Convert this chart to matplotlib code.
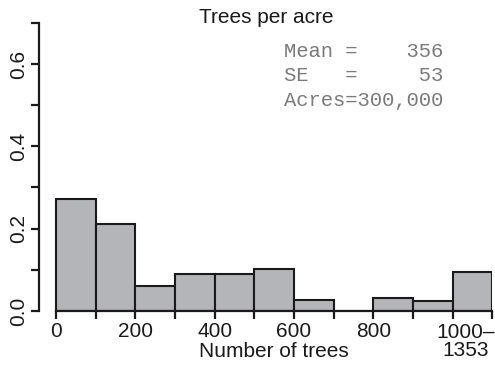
#!/usr/bin/env python3
"""Histogram of trees per acre, R-style base graphics look."""

import matplotlib
matplotlib.use('Agg')
import matplotlib.pyplot as plt
from matplotlib.transforms import blended_transform_factory

# bin left edges (number of trees) and relative frequencies
BIN_LEFT = [0, 100, 200, 300, 400, 500, 600, 700, 800, 900, 1000]
FREQ     = [0.272, 0.212, 0.061, 0.090, 0.090, 0.103, 0.026, 0.0, 0.031, 0.024, 0.095]
BIN_W    = 100

XTICKS       = [0, 100, 200, 300, 400, 500, 600, 700, 800, 900, 1000, 1100]
XTICK_LABELS = ["0", "", "200", "", "400", "", "600", "", "800", "", "", ""]
YTICKS       = [0.0, 0.1, 0.2, 0.3, 0.4, 0.5, 0.6, 0.7]
YTICK_LABELS = ["0.0", "", "0.2", "", "0.4", "", "0.6", ""]

TITLE  = "Trees per acre"
XLABEL = "Number of trees"
LAST_LABEL = "1000\u2013\n1353"
STATS = ["Mean =    356",
         "SE   =     53",
         "Acres=300,000"]

W, H = 495, 366
plt.rcParams['font.family'] = ['Liberation Sans', 'DejaVu Sans']

fig = plt.figure(figsize=(W / 100, H / 100), dpi=100)
# axes box in pixel terms: left spine x=39, right at x(1100)=492, y0 at 311, y(0.7) at 23
ax = fig.add_axes([39 / W, (H - 311) / H, (492.4 - 39) / W, (311 - 22.8) / H])

ax.bar(BIN_LEFT, FREQ, width=BIN_W, align='edge', color='#b4b5b9',
       edgecolor='#1a1a1a', linewidth=1.5, zorder=2)

ax.set_xlim(-43, 1100)
ax.set_ylim(0, 0.7)
for s in ('top', 'right'):
    ax.spines[s].set_visible(False)
ax.spines['left'].set_bounds(0, 0.7)
ax.spines['bottom'].set_bounds(0, 1100)
for s in ('left', 'bottom'):
    ax.spines[s].set_linewidth(1.6)
    ax.spines[s].set_color('#1a1a1a')
    ax.spines[s].set_zorder(3)

ax.set_xticks(XTICKS)
ax.set_xticklabels(XTICK_LABELS)
ax.set_yticks(YTICKS)
ax.set_yticklabels(YTICK_LABELS, rotation=90, va='center')
ax.tick_params(axis='both', direction='out', length=6, width=1.6,
               color='#1a1a1a', labelsize=15, labelcolor='#1a1a1a')
ax.tick_params(axis='x', pad=2)
ax.tick_params(axis='y', pad=2)

# the open-ended last bin gets its own two-line label
tr = blended_transform_factory(ax.transData, fig.transFigure)
ax.text(1032, (H - 323) / H, LAST_LABEL, transform=tr, ha='center', va='top',
        fontsize=15, color='#1a1a1a', linespacing=0.9)

fig.text(266 / W, (H - 23.3) / H, TITLE, ha='center', va='baseline',
         fontsize=15, color='#1a1a1a')
ax.text(550, (H - 357) / H, XLABEL, transform=tr, ha='center', va='baseline',
        fontsize=15, color='#1a1a1a')

for line, base in zip(STATS, [56.7, 81.0, 105.7]):
    fig.text(284 / W, (H - base) / H, line, ha='left', va='baseline',
             family='Liberation Mono', fontsize=14.8, color='#7a7a7a')

fig.savefig("out.png", dpi=100)
